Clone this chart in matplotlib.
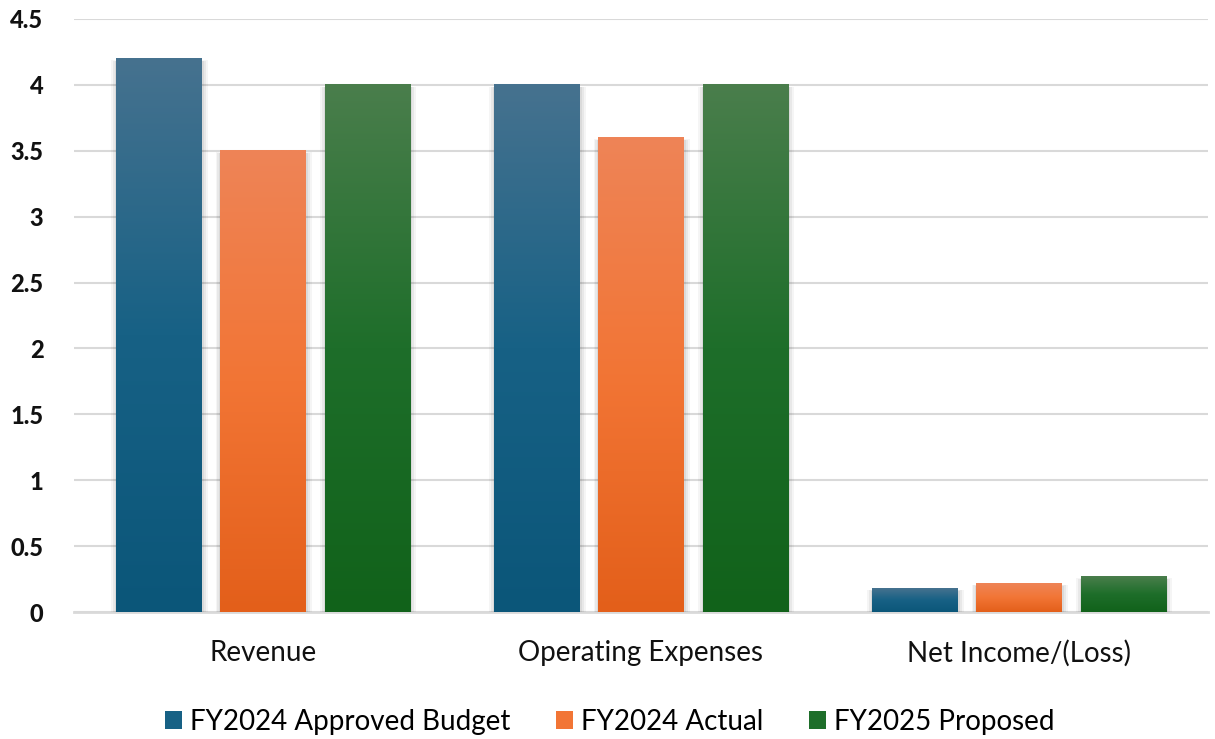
import numpy as np
import matplotlib
matplotlib.use('Agg')
import matplotlib.pyplot as plt
from matplotlib.patches import Patch
from matplotlib.colors import LinearSegmentedColormap

categories = ['Revenue', 'Operating Expenses', 'Net Income/(Loss)']
series_names = ['FY2024 Approved Budget', 'FY2024 Actual', 'FY2025 Proposed']
budget_2024 = [4.2, 4.0, 0.18]
actual_2024 = [3.5, 3.6, 0.22]
proposed_2025 = [4.0, 4.0, 0.27]
y_ticks = [0, 0.5, 1, 1.5, 2, 2.5, 3, 3.5, 4, 4.5]
y_tick_labels = ['0', '0.5', '1', '1.5', '2', '2.5', '3', '3.5', '4', '4.5']

# (top, middle, bottom) colours of the vertical gradient
gradients = [
    ('#46728f', '#176185', '#0b5679'),
    ('#ee8457', '#f27535', '#e35f1a'),
    ('#4a7e4c', '#1e6e2a', '#11621a'),
]

plt.rcParams['font.family'] = ['Lato', 'DejaVu Sans']

fig = plt.figure(figsize=(12.15, 7.39), dpi=100)
ax = fig.add_axes([74 / 1215, 1 - 612 / 739, (1208 - 74) / 1215, (612 - 19) / 739])

x = np.arange(len(categories))
width = 0.225
step = 0.276
all_values = [budget_2024, actual_2024, proposed_2025]

for i, (vals, grad) in enumerate(zip(all_values, gradients)):
    offs = x + (i - 1) * step
    # soft shadow
    for k, a in enumerate([0.04, 0.05, 0.06]):
        d = 0.005 * (3 - k)
        ax.bar(offs + 0.002, np.array(vals) - 0.01 + 0.003 * (3 - k), width + 2 * d,
               bottom=-0.012, color='black', alpha=a, zorder=2, linewidth=0)
    bars = ax.bar(offs, vals, width, color=grad[1], zorder=3, linewidth=0)
    cmap = LinearSegmentedColormap.from_list('g%d' % i, [grad[2], grad[1], grad[0]])
    for b in bars:
        bx, by = b.get_x(), b.get_y()
        bw, bh = b.get_width(), b.get_height()
        img = np.linspace(0, 1, 256).reshape(-1, 1)
        ax.imshow(img, cmap=cmap, origin='lower', aspect='auto',
                  extent=(bx, bx + bw, by, by + bh), zorder=4)

ax.set_xlim(-0.5, len(categories) - 0.5)
ax.set_ylim(0, 4.5)
ax.set_yticks(y_ticks)
ax.set_yticklabels(y_tick_labels, fontsize=17, fontweight='black', color='#111111')
ax.set_xticks(x)
ax.set_xticklabels(categories, fontsize=20, color='#111111')
ax.tick_params(axis='y', length=0, pad=22)
ax.tick_params(axis='x', length=0, pad=20)
ax.grid(axis='y', color='#d9d9d9', linewidth=1.5, zorder=0)
ax.set_axisbelow(True)
for s in ['top', 'right', 'left']:
    ax.spines[s].set_visible(False)
ax.spines['bottom'].set_color('#d9d9d9')
ax.spines['bottom'].set_linewidth(2)
ax.spines['bottom'].set_zorder(1)

handles = [Patch(facecolor=g[1], label=n) for g, n in zip(gradients, series_names)]
fig.legend(handles=handles, loc='center', bbox_to_anchor=(0.502, 1 - 722 / 739),
           ncol=3, frameon=False, fontsize=20, handlelength=0.6, handleheight=0.6,
           handletextpad=0.3, columnspacing=1.65)

fig.savefig('out.png', dpi=100)
